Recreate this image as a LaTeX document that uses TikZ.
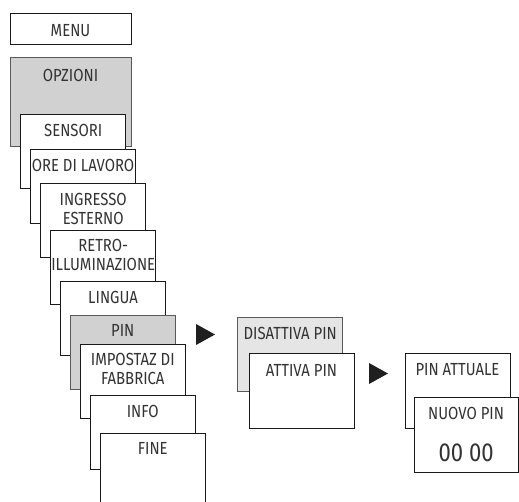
\documentclass[tikz,border=0pt]{standalone}
\usepackage{fontspec}
\setmainfont{Fira Sans}[FakeStretch=0.85]
\begin{document}
\begin{tikzpicture}[x=1pt,y=-1pt,
  card/.style={draw=black!90,line width=0.8pt,fill=white,anchor=north west,
    minimum width=105pt,minimum height=74pt,inner sep=0pt,outer sep=0pt},
  graycard/.style={card,draw=black!65,fill=black!18},
  lightcard/.style={card,draw=black!65,fill=black!10},
  lbl/.style={anchor=base,inner sep=0pt,text=black!80,font=\fontsize{17.5}{19}\selectfont,align=center},
  tri/.style={fill=black!88}]
\useasboundingbox (0,0) rectangle (519,501);
\clip (0,0) rectangle (519,501);
% left column
\node[card,minimum width=121pt,minimum height=31pt] (menu) at (10,13) {};
\node[lbl] at ([yshift=-23pt]menu.north) {MENU};
\node[graycard,minimum width=121pt,minimum height=89pt] (opz) at (10,57) {};
\node[lbl] at ([yshift=-24pt]opz.north) {OPZIONI};
\node[card] (sens) at (20.7,114) {};
\node[lbl] at ([yshift=-22pt]sens.north) {SENSORI};
\node[card] (ore) at (30.5,149) {};
\node[lbl] at ([yshift=-22pt]ore.north) {ORE DI LAVORO};
\node[card] (ingr) at (40.7,183) {};
\node[lbl] at ([yshift=-41pt]ingr.north) {INGRESSO\\ESTERNO};
\node[card] (retro) at (50.7,230) {};
\node[lbl] at ([yshift=-40pt]retro.north) {RETRO-\\ILLUMINAZIONE};
\node[card] (lingua) at (60.5,281) {};
\node[lbl] at ([yshift=-22pt]lingua.north) {LINGUA};
\node[graycard] (pin) at (70.3,315) {};
\node[lbl] at ([yshift=-21pt]pin.north) {PIN};
\node[card] (imp) at (80.3,344) {};
\node[lbl] at ([yshift=-40pt]imp.north) {IMPOSTAZ DI\\FABBRICA};
\node[card] (info) at (90.3,395) {};
\node[lbl] at ([yshift=-22pt]info.north) {INFO};
\node[card] (fine) at (100.3,433) {};
\node[lbl] at ([yshift=-21pt]fine.north) {FINE};
% arrow 1
\fill[tri] (196,324) -- (215,334.5) -- (196,345) -- cycle;
% middle column
\node[lightcard] (dis) at (237.7,317) {};
\node[lbl] at ([yshift=-22pt]dis.north) {DISATTIVA PIN};
\node[card,minimum height=75pt] (att) at (249,353) {};
\node[lbl] at ([yshift=-23pt]att.north) {ATTIVA PIN};
% arrow 2
\fill[tri] (369,363) -- (388,373.5) -- (369,384) -- cycle;
% right column
\node[card,minimum height=75pt] (pinatt) at (405,353) {};
\node[lbl] at ([yshift=-22pt]pinatt.north) {PIN ATTUALE};
\node[card,minimum width=104.2pt,minimum height=75pt] (nuovo) at (414,397) {};
\node[lbl] at ([yshift=-22pt]nuovo.north) {NUOVO PIN};
\node[lbl,font=\fontsize{26}{28}\selectfont] at ([yshift=-64pt]nuovo.north) {00 00};
\end{tikzpicture}
\end{document}
